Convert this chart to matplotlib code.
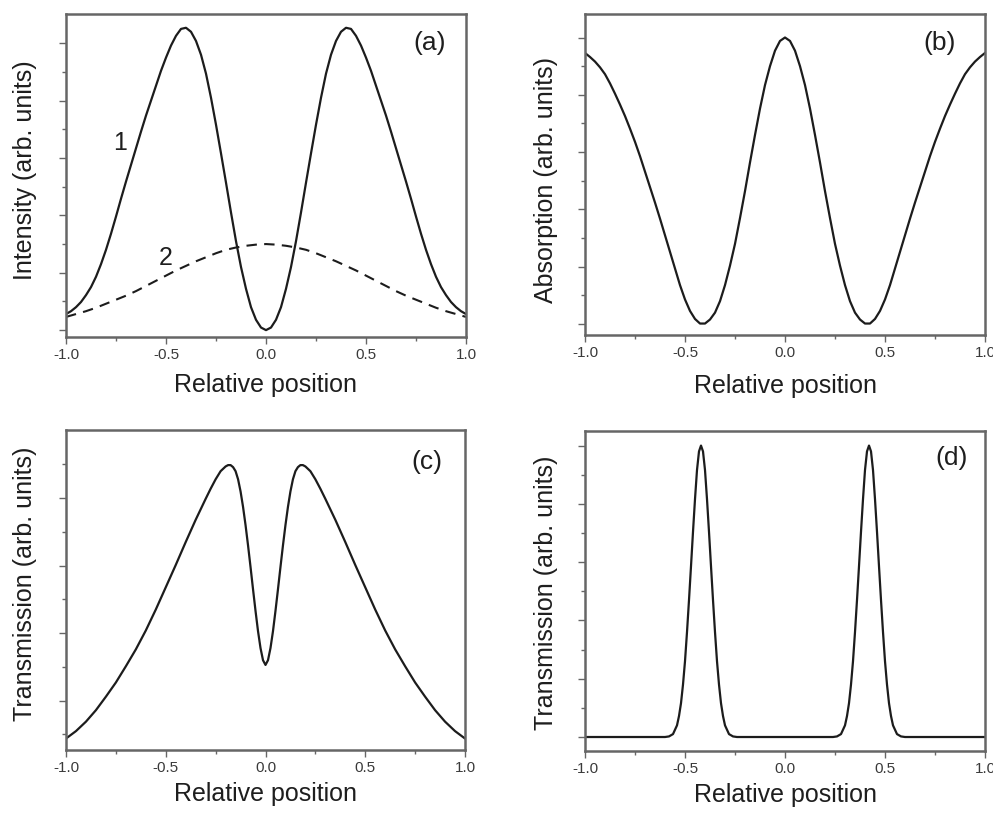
import numpy as np
import matplotlib
matplotlib.use("Agg")
import matplotlib.pyplot as plt
from matplotlib.ticker import FixedLocator, FormatStrFormatter

plt.rcParams['font.family'] = ['Liberation Sans', 'DejaVu Sans']
plt.rcParams['axes.unicode_minus'] = False

# ---------------- data ----------------
x_tick_labels = ["-1.0", "-0.5", "0.0", "0.5", "1.0"]

# panel (a): x grid step 0.025
x_a1 = np.round(np.arange(-1.0, 1.0001, 0.025), 4)
intensity_1 = [0.28, 0.33, 0.40, 0.49, 0.61, 0.75, 0.93, 1.15, 1.40, 1.68,
               1.98, 2.29, 2.59, 2.88, 3.17, 3.46, 3.74, 4.00, 4.26, 4.52,
               4.75, 4.96, 5.13, 5.25, 5.27, 5.20, 5.04, 4.80, 4.47, 4.05,
               3.58, 3.08, 2.57, 2.05, 1.55, 1.10, 0.72, 0.40, 0.18, 0.045,
               0.00,
               0.045, 0.18, 0.40, 0.72, 1.10, 1.55, 2.05, 2.57, 3.08, 3.58,
               4.05, 4.47, 4.80, 5.04, 5.20, 5.27, 5.25, 5.13, 4.96, 4.75,
               4.52, 4.26, 4.00, 3.74, 3.46, 3.17, 2.88, 2.59, 2.29, 1.98,
               1.68, 1.40, 1.15, 0.93, 0.75, 0.61, 0.49, 0.40, 0.33, 0.28]

x_a2 = np.round(np.arange(-1.0, 1.0001, 0.05), 4)
intensity_2 = [0.23, 0.28, 0.33, 0.39, 0.46, 0.53, 0.60, 0.68, 0.77, 0.86,
               0.95, 1.04, 1.12, 1.20, 1.27, 1.34, 1.40, 1.44, 1.47, 1.49,
               1.50,
               1.49, 1.47, 1.44, 1.40, 1.34, 1.27, 1.20, 1.12, 1.04, 0.95,
               0.86, 0.77, 0.68, 0.60, 0.53, 0.46, 0.39, 0.33, 0.28, 0.23]

# panel (b): x grid step 0.025
x_b = np.round(np.arange(-1.0, 1.0001, 0.025), 4)
absorption = [4.73, 4.66, 4.58, 4.48, 4.36, 4.20, 4.02, 3.83, 3.63, 3.41,
              3.18, 2.93, 2.66, 2.39, 2.12, 1.84, 1.55, 1.26, 0.97, 0.68,
              0.43, 0.23, 0.09, 0.01, 0.01, 0.08, 0.20, 0.40, 0.68, 1.02,
              1.40, 1.85, 2.32, 2.82, 3.30, 3.76, 4.17, 4.50, 4.77, 4.94,
              5.00,
              4.94, 4.77, 4.50, 4.17, 3.76, 3.30, 2.82, 2.32, 1.85, 1.40,
              1.02, 0.68, 0.40, 0.20, 0.08, 0.01, 0.01, 0.09, 0.23, 0.43,
              0.68, 0.97, 1.26, 1.55, 1.84, 2.12, 2.39, 2.66, 2.93, 3.18,
              3.41, 3.63, 3.83, 4.02, 4.20, 4.36, 4.48, 4.58, 4.66, 4.73]

# panel (c)
x_c = [-1.0, -0.95, -0.9, -0.85, -0.8, -0.75, -0.7, -0.65, -0.6, -0.55,
       -0.5, -0.45, -0.4, -0.35, -0.3, -0.275, -0.25, -0.225, -0.2, -0.1875,
       -0.175, -0.1625, -0.15, -0.1375, -0.125, -0.1125, -0.1, -0.0875, -0.075, -0.0625,
       -0.05, -0.0375, -0.025, -0.0125, 0.0,
       0.0125, 0.025, 0.0375, 0.05, 0.0625, 0.075, 0.0875, 0.1, 0.1125, 0.125,
       0.1375, 0.15, 0.1625, 0.175, 0.1875, 0.2, 0.225, 0.25, 0.275, 0.3,
       0.35, 0.4, 0.45, 0.5, 0.55, 0.6, 0.65, 0.7, 0.75, 0.8,
       0.85, 0.9, 0.95, 1.0]
transmission_c = [0.44, 0.55, 0.69, 0.86, 1.06, 1.27, 1.51, 1.76, 2.04, 2.35,
                  2.68, 3.01, 3.35, 3.68, 3.99, 4.14, 4.28, 4.40, 4.47, 4.49,
                  4.49, 4.46, 4.40, 4.28, 4.10, 3.87, 3.60, 3.30, 2.98, 2.65,
                  2.33, 2.03, 1.78, 1.60, 1.53,
                  1.60, 1.78, 2.03, 2.33, 2.65, 2.98, 3.30, 3.60, 3.87, 4.10,
                  4.28, 4.40, 4.46, 4.49, 4.49, 4.47, 4.40, 4.28, 4.14, 3.99,
                  3.68, 3.35, 3.01, 2.68, 2.35, 2.04, 1.76, 1.51, 1.27, 1.06,
                  0.86, 0.69, 0.55, 0.44]

# panel (d)
x_d = [-1.0, -0.8, -0.65, -0.6, -0.58, -0.56, -0.54, -0.53, -0.52, -0.51,
       -0.5, -0.49, -0.48, -0.47, -0.46, -0.45, -0.44, -0.43, -0.42, -0.41,
       -0.4, -0.39, -0.38, -0.37, -0.36, -0.35, -0.34, -0.33, -0.32, -0.31,
       -0.3, -0.28, -0.26, -0.24, -0.2, 0.0,
       0.2, 0.24, 0.26, 0.28, 0.3, 0.31, 0.32, 0.33, 0.34, 0.35,
       0.36, 0.37, 0.38, 0.39, 0.4, 0.41, 0.42, 0.43, 0.44, 0.45,
       0.46, 0.47, 0.48, 0.49, 0.5, 0.51, 0.52, 0.53, 0.54, 0.56,
       0.58, 0.6, 0.65, 0.8, 1.0]
transmission_d = [0.0, 0.0, 0.0, 0.0, 0.01, 0.05, 0.20, 0.36, 0.58, 0.90,
                  1.30, 1.80, 2.35, 2.93, 3.52, 4.08, 4.58, 4.90, 5.00, 4.90,
                  4.58, 4.08, 3.52, 2.93, 2.35, 1.80, 1.30, 0.90, 0.58, 0.36,
                  0.20, 0.05, 0.01, 0.0, 0.0, 0.0,
                  0.0, 0.0, 0.01, 0.05, 0.20, 0.36, 0.58, 0.90, 1.30, 1.80,
                  2.35, 2.93, 3.52, 4.08, 4.58, 4.90, 5.00, 4.90, 4.58, 4.08,
                  3.52, 2.93, 2.35, 1.80, 1.30, 0.90, 0.58, 0.36, 0.20, 0.05,
                  0.01, 0.0, 0.0, 0.0, 0.0]

# ---------------- figure ----------------
W, H = 993, 814
fig = plt.figure(figsize=(W / 100, H / 100), dpi=100)


def add_axes(left, right, top, bottom):
    return fig.add_axes([left / W, 1 - bottom / H, (right - left) / W, (bottom - top) / H])


LINE = '#1c1c1c'
SPINE = '#666666'
TEXT = '#1e1e1e'


def style(ax, ylim, ymajor, yminor, ylabel, ylab_xy, xlab_y):
    ax.set_xlim(-1, 1)
    ax.set_ylim(*ylim)
    ax.xaxis.set_major_locator(FixedLocator([-1.0, -0.5, 0.0, 0.5, 1.0]))
    ax.xaxis.set_minor_locator(FixedLocator([-0.75, -0.25, 0.25, 0.75]))
    ax.set_xticklabels(x_tick_labels)
    ax.yaxis.set_major_locator(FixedLocator(ymajor))
    ax.yaxis.set_minor_locator(FixedLocator(yminor))
    ax.tick_params(axis='both', which='both', direction='out', top=False, right=False,
                   color=SPINE, labelcolor='#3a3a3a')
    ax.tick_params(which='major', length=5, width=1.0)
    ax.tick_params(which='minor', length=3, width=1.0)
    ax.tick_params(axis='y', labelleft=False)
    ax.tick_params(axis='x', labelsize=11, pad=3)
    for s in ax.spines.values():
        s.set_color(SPINE)
        s.set_linewidth(1.8)
    ax.set_xlabel('Relative position', fontsize=18, color=TEXT)
    ax.xaxis.set_label_coords(0.5, xlab_y)
    ax.xaxis.label.set_va('center')
    ax.set_ylabel(ylabel, fontsize=18, color=TEXT)
    ax.yaxis.set_label_coords(*ylab_xy)
    ax.yaxis.label.set_va('center')


# (a)
ax_a = add_axes(66, 466, 14, 337)
ax_a.plot(x_a1, intensity_1, color=LINE, lw=1.6)
ax_a.plot(x_a2, intensity_2, color=LINE, lw=1.5, linestyle=(0, (5, 3.5)))
style(ax_a, (-0.12, 5.51), [0, 1, 2, 3, 4, 5], [0.5, 1.5, 2.5, 3.5, 4.5],
      'Intensity (arb. units)', (-0.1025, 0.517), -0.149)
ax_a.text(0.82, 5.0, '(a)', fontsize=19, ha='center', va='center', color=TEXT)
ax_a.text(-0.73, 3.26, '1', fontsize=18, ha='center', va='center', color=TEXT)
ax_a.text(-0.50, 1.26, '2', fontsize=18, ha='center', va='center', color=TEXT)

# (b)
ax_b = add_axes(585, 985, 14, 335)
ax_b.plot(x_b, absorption, color=LINE, lw=1.6)
style(ax_b, (-0.19, 5.41), [0, 1, 2, 3, 4, 5], [0.5, 1.5, 2.5, 3.5, 4.5],
      'Absorption (arb. units)', (-0.0975, 0.483), -0.160)
ax_b.text(0.775, 4.90, '(b)', fontsize=19, ha='center', va='center', color=TEXT)

# (c)
ax_c = add_axes(66, 465, 430, 750)
ax_c.plot(x_c, transmission_c, color=LINE, lw=1.6)
style(ax_c, (0.27, 5.01), [1, 2, 3, 4], [0.5, 1.5, 2.5, 3.5, 4.5],
      'Transmission (arb. units)', (-0.1025, 0.52), -0.137)
ax_c.text(0.81, 4.54, '(c)', fontsize=19, ha='center', va='center', color=TEXT)

# (d)
ax_d = add_axes(585, 985, 431, 751)
ax_d.plot(x_d, transmission_d, color=LINE, lw=1.6)
style(ax_d, (-0.24, 5.25), [0, 1, 2, 3, 4, 5], [0.5, 1.5, 2.5, 3.5, 4.5],
      'Transmission (arb. units)', (-0.0975, 0.495), -0.138)
ax_d.text(0.835, 4.78, '(d)', fontsize=19, ha='center', va='center', color=TEXT)

fig.savefig('out.png', dpi=100, facecolor='white')
